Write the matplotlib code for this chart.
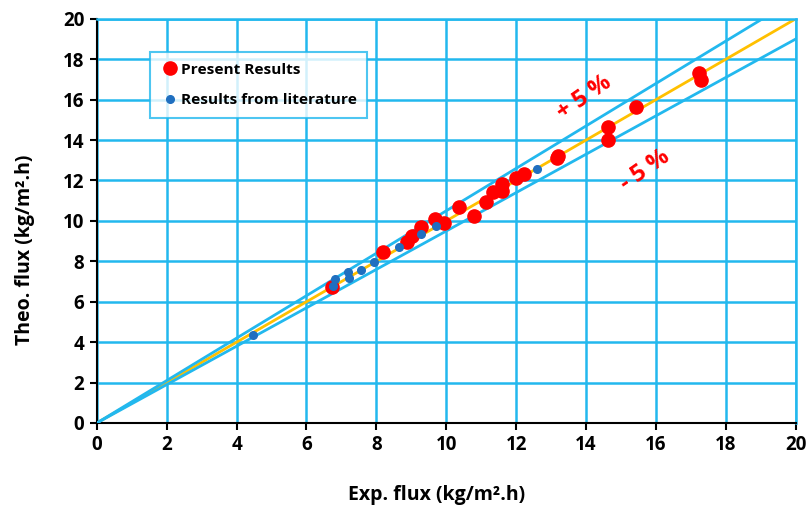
import numpy as np
import matplotlib.pyplot as plt

plt.rcParams['font.family'] = ['Open Sans', 'DejaVu Sans']
plt.rcParams['font.weight'] = 'bold'

# present results (exp, theo)
present_exp = [6.72, 8.19, 8.87, 9.02, 9.27, 9.68, 9.93, 10.36, 10.80, 11.15, 11.33,
               11.60, 11.60, 12.00, 12.23, 13.17, 13.20, 14.64, 14.64, 15.44, 17.22, 17.28]
present_theo = [6.75, 8.48, 8.98, 9.26, 9.72, 10.08, 9.92, 10.68, 10.23, 10.94, 11.42,
                11.82, 11.50, 12.14, 12.33, 13.10, 13.20, 14.67, 14.00, 15.63, 17.33, 16.98]
# literature results
lit_exp = [4.48, 6.77, 6.82, 7.20, 7.22, 7.56, 7.92, 8.65, 9.27, 9.72, 12.60]
lit_theo = [4.36, 6.78, 7.11, 7.49, 7.19, 7.57, 7.97, 8.73, 9.34, 9.75, 12.56]

ticks = np.arange(0, 21, 2)
blue = '#22B8EE'

fig = plt.figure(figsize=(8.07, 5.09), dpi=100)
ax = fig.add_axes([0.120, 0.169, 0.866, 0.794])

xs = np.array([0, 20])
ax.plot(xs, xs, color='#FFC000', lw=2, zorder=2)
ax.plot(xs, 1.05 * xs, color=blue, lw=2, zorder=3)
ax.plot(xs, 0.95 * xs, color=blue, lw=2, zorder=3)

ax.plot(present_exp, present_theo, 'o', color='#FF0000', ms=9.5, zorder=4,
        label='Present Results')
ax.plot(lit_exp, lit_theo, 'o', color='#1F6FC0', ms=5.5, zorder=5,
        label='Results from literature')

ax.set_xlim(0, 20)
ax.set_ylim(0, 20)
ax.set_xticks(ticks)
ax.set_yticks(ticks)
ax.grid(True, color=blue, lw=1.8, zorder=0)
ax.set_axisbelow(True)
for s in ['top', 'right']:
    ax.spines[s].set_color(blue)
    ax.spines[s].set_linewidth(1.8)
for s in ['left', 'bottom']:
    ax.spines[s].set_color('black')
    ax.spines[s].set_linewidth(1.5)
ax.tick_params(length=5, width=1.5, labelsize=13.5, pad=4)
for t in ax.get_xticklabels() + ax.get_yticklabels():
    t.set_fontweight('bold')

ax.set_xlabel('Exp. flux (kg/m\u00b2.h)', fontsize=14, fontweight='bold')
ax.set_ylabel('Theo. flux (kg/m\u00b2.h)', fontsize=14, fontweight='bold')
ax.xaxis.set_label_coords(0.486, -0.178)
ax.yaxis.set_label_coords(-0.103, 0.428)
ax.xaxis.label.set_va('center')
ax.yaxis.label.set_va('center')

ax.text(13.95, 16.1, '+ 5 %', color='#FF0000', fontsize=17, fontweight='bold',
        rotation=35, ha='center', va='center', zorder=6)
ax.text(15.7, 12.5, '- 5 %', color='#FF0000', fontsize=17, fontweight='bold',
        rotation=35, ha='center', va='center', zorder=6)

leg = ax.legend(loc='upper left', bbox_to_anchor=(0.076, 0.918), fontsize=11.1,
                frameon=True, fancybox=False, handletextpad=0.1, handlelength=1.2,
                labelspacing=1.05, borderpad=0.7, borderaxespad=0)
leg.get_frame().set_edgecolor(blue)
leg.get_frame().set_linewidth(1.5)
for t in leg.get_texts():
    t.set_fontweight('bold')

fig.savefig('out.png', dpi=100)
